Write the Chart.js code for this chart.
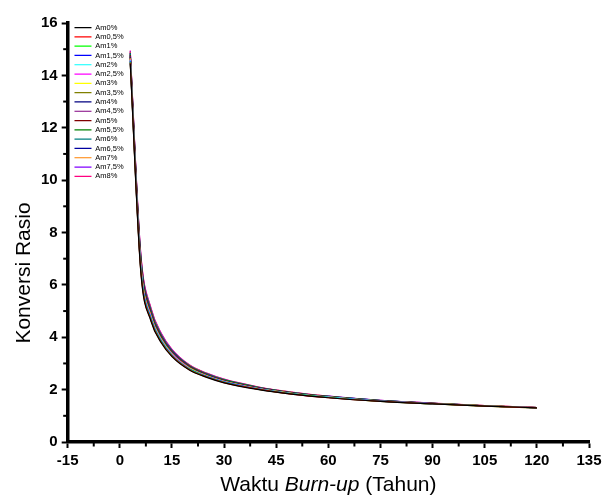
<!DOCTYPE html>
<html>
<head>
<meta charset="utf-8">
<script src="https://cdn.jsdelivr.net/npm/chart.js@4.4.0/dist/chart.umd.min.js"></script>
<style>
  html, body { margin: 0; padding: 0; background: #fff; }
</style>
</head>
<body>
<canvas id="myChart" width="606" height="499"></canvas>
<script>
    // data

    const years = [3, 6, 9, 12, 15, 20, 25, 30, 40, 50, 60, 75, 90, 105, 120];

    const am0   = [14.45, 6.55, 4.60, 3.77, 3.26, 2.75, 2.47, 2.26, 2.00, 1.82, 1.69, 1.55, 1.455, 1.37, 1.305];
    const am05  = [14.48, 6.59, 4.63, 3.79, 3.28, 2.76, 2.48, 2.27, 2.01, 1.82, 1.69, 1.55, 1.46, 1.37, 1.305];
    const am1   = [14.51, 6.64, 4.66, 3.82, 3.30, 2.78, 2.49, 2.28, 2.01, 1.83, 1.70, 1.55, 1.46, 1.37, 1.305];
    const am15  = [14.54, 6.68, 4.69, 3.84, 3.31, 2.79, 2.50, 2.29, 2.02, 1.83, 1.70, 1.56, 1.46, 1.375, 1.305];
    const am2   = [14.58, 6.72, 4.73, 3.86, 3.33, 2.80, 2.51, 2.30, 2.03, 1.84, 1.71, 1.56, 1.46, 1.375, 1.305];
    const am25  = [14.61, 6.77, 4.76, 3.88, 3.35, 2.81, 2.52, 2.31, 2.03, 1.84, 1.71, 1.56, 1.465, 1.375, 1.31];
    const am3   = [14.64, 6.81, 4.79, 3.91, 3.37, 2.83, 2.53, 2.32, 2.04, 1.85, 1.71, 1.56, 1.465, 1.38, 1.31];
    const am35  = [14.67, 6.86, 4.82, 3.93, 3.38, 2.84, 2.54, 2.32, 2.04, 1.85, 1.72, 1.57, 1.47, 1.38, 1.31];
    const am4   = [14.70, 6.90, 4.85, 3.95, 3.40, 2.85, 2.55, 2.33, 2.05, 1.86, 1.72, 1.57, 1.47, 1.38, 1.31];
    const am45  = [14.73, 6.94, 4.88, 3.97, 3.42, 2.86, 2.56, 2.34, 2.06, 1.86, 1.72, 1.57, 1.47, 1.38, 1.31];
    const am5   = [14.76, 6.99, 4.91, 3.99, 3.43, 2.88, 2.57, 2.35, 2.06, 1.87, 1.73, 1.57, 1.475, 1.38, 1.31];
    const am55  = [14.79, 7.03, 4.94, 4.02, 3.45, 2.89, 2.58, 2.36, 2.07, 1.87, 1.73, 1.58, 1.475, 1.385, 1.31];
    const am6   = [14.83, 7.07, 4.98, 4.04, 3.47, 2.90, 2.59, 2.37, 2.08, 1.88, 1.74, 1.58, 1.48, 1.385, 1.315];
    const am65  = [14.86, 7.12, 5.01, 4.06, 3.49, 2.91, 2.60, 2.37, 2.08, 1.88, 1.74, 1.58, 1.48, 1.385, 1.315];
    const am7   = [14.89, 7.16, 5.04, 4.08, 3.50, 2.93, 2.61, 2.38, 2.09, 1.89, 1.74, 1.58, 1.48, 1.39, 1.315];
    const am75  = [14.92, 7.21, 5.07, 4.11, 3.52, 2.94, 2.62, 2.39, 2.09, 1.89, 1.75, 1.59, 1.48, 1.39, 1.315];
    const am8   = [14.95, 7.25, 5.10, 4.13, 3.54, 2.95, 2.63, 2.40, 2.10, 1.90, 1.75, 1.59, 1.485, 1.39, 1.315];

    const seriesNames = ['Am0%', 'Am0,5%', 'Am1%', 'Am1,5%', 'Am2%', 'Am2,5%', 'Am3%', 'Am3,5%', 'Am4%',
                         'Am4,5%', 'Am5%', 'Am5,5%', 'Am6%', 'Am6,5%', 'Am7%', 'Am7,5%', 'Am8%'];
    const seriesValues = [am0, am05, am1, am15, am2, am25, am3, am35, am4, am45, am5, am55, am6, am65, am7, am75, am8];
    const seriesColors = ['#000000', '#FF0000', '#00FF00', '#0000FF', '#00FFFF', '#FF00FF', '#FFFF00', '#808000', '#000080',
                          '#800080', '#800000', '#008000', '#008080', '#0000A0', '#FF8000', '#8000FF', '#FF0080'];

    // tick values
    const minorX = [-7.5, 7.5, 22.5, 37.5, 52.5, 67.5, 82.5, 97.5, 112.5, 127.5];
    const minorY = [1, 3, 5, 7, 9, 11, 13, 15];

    const FONT = "'Liberation Sans', Arial, sans-serif";

    // setup

    const datasets = seriesNames.map((name, i) => ({
      label: name,
      data: years.map((t, j) => ({ x: t, y: seriesValues[i][j] })),
      borderColor: seriesColors[i],
      backgroundColor: seriesColors[i],
      borderWidth: 1.2,
      pointRadius: 0,
      cubicInterpolationMode: 'monotone'
    }));

    // move the legend a bit inside the plot (top-left corner)
    const legendPlace = {
      id: 'legendPlace',
      afterLayout(chart) {
        const lg = chart.legend;
        const area = chart.chartArea;
        lg.left = area.left + 5;
        lg.top = area.top - 1;
        lg.bottom = area.bottom;
      }
    };

    // minor ticks + axis titles (x title has an italic part)
    const extras = {
      id: 'extras',
      afterDraw(chart) {
        const { ctx, chartArea, scales } = chart;
        ctx.save();
        ctx.strokeStyle = '#000';
        ctx.lineWidth = 2;
        minorY.forEach(v => {
          const py = scales.y.getPixelForValue(v);
          ctx.beginPath();
          ctx.moveTo(chartArea.left - 1, py);
          ctx.lineTo(chartArea.left - 4.5, py);
          ctx.stroke();
        });
        minorX.forEach(v => {
          const px = scales.x.getPixelForValue(v);
          ctx.beginPath();
          ctx.moveTo(px, chartArea.bottom + 1);
          ctx.lineTo(px, chartArea.bottom + 4.5);
          ctx.stroke();
        });

        ctx.fillStyle = '#000';
        ctx.textBaseline = 'alphabetic';
        const parts = [['Waktu ', 'normal'], ['Burn-up', 'italic'], [' (Tahun)', 'normal']];
        let total = 0;
        parts.forEach(p => { ctx.font = p[1] + ' 21px ' + FONT; total += ctx.measureText(p[0]).width; });
        let tx = (chartArea.left + chartArea.right) / 2 - total / 2;
        parts.forEach(p => {
          ctx.font = p[1] + ' 21px ' + FONT;
          ctx.fillText(p[0], tx, chartArea.bottom + 49);
          tx += ctx.measureText(p[0]).width;
        });

        ctx.translate(chartArea.left - 38, chartArea.top + 250);
        ctx.rotate(-Math.PI / 2);
        ctx.font = '21px ' + FONT;
        ctx.textAlign = 'center';
        ctx.fillText('Konversi Rasio', 0, 0);
        ctx.restore();
      }
    };

    // config
    const config = {
      type: 'line',
      data: { datasets: datasets },
      options: {
        responsive: false,
        animation: false,
        layout: { padding: { left: 37, top: 23, right: 17, bottom: 25 } },
        plugins: {
          tooltip: { enabled: false },
          legend: {
            position: 'chartArea',
            align: 'start',
            labels: {
              usePointStyle: true,
              pointStyle: 'line',
              pointStyleWidth: 17,
              boxHeight: 7,
              padding: 1.8,
              color: '#000',
              font: { family: FONT, size: 7.5 }
            }
          }
        },
        scales: {
          x: {
            type: 'linear',
            min: -15,
            max: 135,
            border: { display: true, color: '#000', width: 3.5 },
            grid: { drawOnChartArea: false, drawTicks: true, tickLength: 6, tickWidth: 2, tickColor: '#000' },
            ticks: { stepSize: 15, padding: 4, color: '#000', font: { family: FONT, size: 15, weight: 'bold' }, maxRotation: 0 }
          },
          y: {
            min: 0,
            max: 16,
            border: { display: true, color: '#000', width: 3.5 },
            grid: { drawOnChartArea: false, drawTicks: true, tickLength: 6, tickWidth: 2, tickColor: '#000' },
            ticks: { stepSize: 2, padding: 4, color: '#000', font: { family: FONT, size: 15, weight: 'bold' } }
          }
        }
      },
      plugins: [legendPlace, extras]
    };

    // render init block
    const myChart = new Chart(document.getElementById('myChart'), config);
</script>
</body>
</html>
